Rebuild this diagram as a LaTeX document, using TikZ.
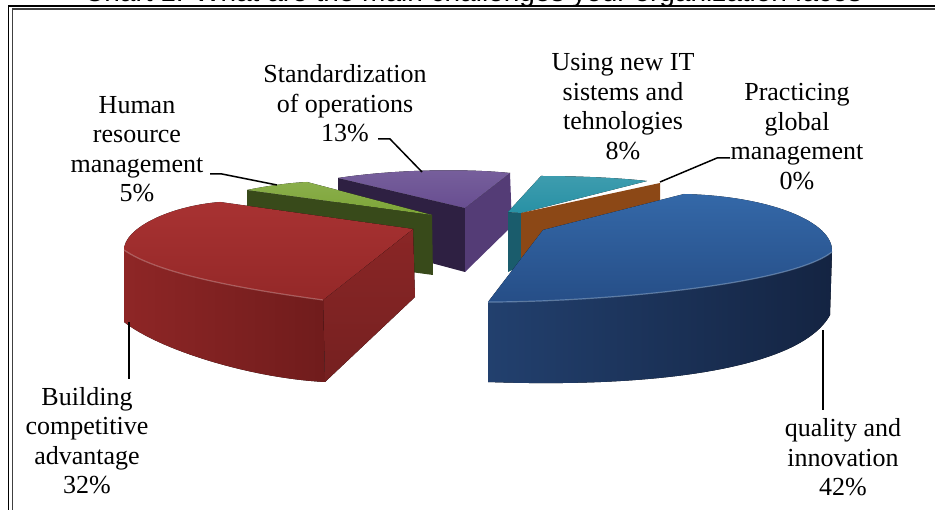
\documentclass[tikz,border=0pt]{standalone}
\usepackage{fontspec}
\setmainfont{Liberation Serif}
\newfontfamily\titlefont{Liberation Sans}
\usepackage{tikz}

\definecolor{redtop}{RGB}{168,50,50}
\definecolor{redtopb}{RGB}{148,40,40}
\definecolor{redfront}{RGB}{142,38,38}
\definecolor{redfrontb}{RGB}{112,28,28}
\definecolor{redcut}{RGB}{138,38,38}
\definecolor{greentop}{RGB}{125,165,55}
\definecolor{greendark}{RGB}{56,74,26}
\definecolor{purpletop}{RGB}{104,78,145}
\definecolor{purpledark}{RGB}{46,32,66}
\definecolor{purpleside}{RGB}{84,60,118}
\definecolor{tealtop}{RGB}{40,145,165}
\definecolor{tealdark}{RGB}{26,92,108}
\definecolor{orangecut}{RGB}{140,72,22}
\definecolor{bluetop}{RGB}{52,104,168}
\definecolor{bluetopb}{RGB}{38,78,135}
\definecolor{bluefront}{RGB}{34,64,110}
\definecolor{bluefrontb}{RGB}{20,36,66}

\begin{document}
\begin{tikzpicture}[
x=1pt, y=-1pt,
lbl/.style={align=center, inner sep=0pt, font=\fontsize{26}{29.5}\selectfont},
leader/.style={line width=1.5pt},
rim/.style={line width=1.2pt, opacity=0.6}
]
\useasboundingbox (0,0) rectangle (935,510);

% Cut-off title and frame
\begin{scope}
\clip (0,0) rectangle (935,510);
\node[anchor=base west, inner sep=0pt, font=\titlefont\fontsize{28}{30}\selectfont] (title) at (84,1.5) {Chart 1. What are the main challenges your organization faces};
\end{scope}
\draw[line width=1.8pt] (8.5,510) -- (8.5,6) -- (935,6);
\draw[black!75, line width=1.4pt] (12.5,510) -- (12.5,9) -- (935,9);

% Standardization of operations (purple)
\fill[purpledark] (338,178) -- (465,208) -- (465,272) -- (338,238) -- cycle;
\fill[purpleside] (465,208) -- (510,173) -- (512,226) -- (465,272) -- cycle;
\fill[top color=purpletop!90!white, bottom color=purpletop] (338,178) .. controls (390,170) and (460,168) .. (510,173) -- (465,208) -- cycle;

% Human resource management (green)
\fill[greendark] (247,190) -- (432,215) -- (433,275) -- (247,250) -- cycle;
\fill[top color=greentop!90!white, bottom color=greentop] (247,190) .. controls (267,186) and (287,183) .. (307,182) -- (432,215) -- cycle;

% Building competitive advantage (red)
\fill[top color=redcut, bottom color=redcut!85!black] (413,229) -- (323,300) -- (325,382) -- (415,297) -- cycle;
\fill[left color=redfront, right color=redfrontb] (323,300) .. controls (250,290) and (160,275) .. (124,250) -- (124,322) .. controls (160,350) and (250,378) .. (325,382) -- cycle;
\fill[top color=redtop, bottom color=redtopb] (220,202) -- (413,229) -- (323,300) .. controls (250,290) and (160,275) .. (124,250) .. controls (124,228) and (170,206) .. (220,202) -- cycle;
\draw[rim, redtop!60!white] (323,300) .. controls (250,290) and (160,275) .. (124,250);

% Using new IT (teal) and Practicing global management (orange)
\fill[tealdark] (508,212) -- (521,213) -- (530,262) -- (508,272) -- cycle;
\fill[top color=tealtop!90!white, bottom color=tealtop] (508,212) -- (541,176) .. controls (580,176) and (620,178) .. (647,181) -- (521,213) -- cycle;
\fill[orangecut] (521,213) -- (660,183) -- (660,240) -- (521,258) -- cycle;

% quality and innovation (blue)
\fill[left color=bluefront, right color=bluefrontb] (488,302) .. controls (600,302) and (790,285) .. (832,252) -- (830,315) .. controls (800,370) and (650,388) .. (488,382) -- cycle;
\fill[top color=bluetop, bottom color=bluetopb] (488,302) -- (543,230) -- (684,194) .. controls (770,196) and (834,222) .. (832,252) .. controls (790,285) and (600,302) .. (488,302) -- cycle;
\draw[rim, bluetop!60!white] (832,252) .. controls (790,285) and (600,302) .. (488,302);

% Labels
\node[lbl] (hrm) at (137,149) {Human\\resource\\management\\5\%};
\node[lbl] (std) at (345,103.5) {Standardization\\of operations\\13\%};
\node[lbl] (itsys) at (623,106.5) {Using new IT\\sistems and\\tehnologies\\8\%};
\node[lbl] (glob) at (797,136.5) {Practicing\\global\\management\\0\%};
\node[lbl] (bca) at (87,440.5) {Building\\competitive\\advantage\\32\%};
\node[lbl] (qual) at (843,457.5) {quality and\\innovation\\42\%};

% Leaders
\coordinate (hrmfoot) at (210,174);
\coordinate (hrmtip) at (277,185);
\coordinate (stdfoot) at (378,139);
\coordinate (stdtip) at (422,172);
\coordinate (globfoot) at (730,158);
\coordinate (globtip) at (660,182);
\coordinate (bcafoot) at (129,379);
\coordinate (bcatip) at (129,322);
\coordinate (qualfoot) at (823,410);
\coordinate (qualtip) at (823,330);
\draw[leader] (hrmfoot) -- ++(12,0) -- (hrmtip);
\draw[leader] (stdfoot) -- ++(12,0) -- (stdtip);
\draw[leader] (globfoot) -- ++(-13,0) -- (globtip);
\draw[leader] (bcafoot) -- (bcatip);
\draw[leader] (qualfoot) -- (qualtip);

\end{tikzpicture}
\end{document}
